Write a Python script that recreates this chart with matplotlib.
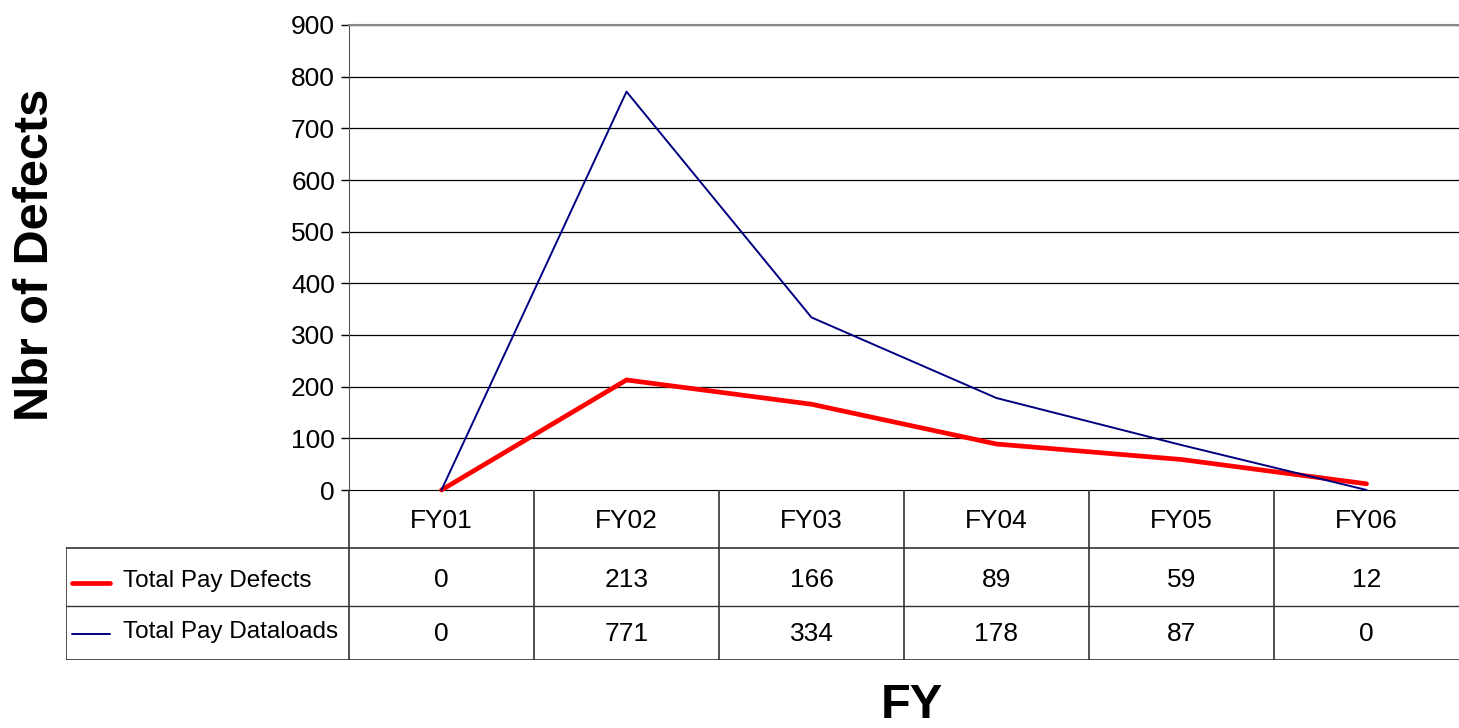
import matplotlib
matplotlib.use("Agg")
import matplotlib.pyplot as plt

categories = ["FY01", "FY02", "FY03", "FY04", "FY05", "FY06"]
defects = [0, 213, 166, 89, 59, 12]
dataloads = [0, 771, 334, 178, 87, 0]
series_names = ["Total Pay Defects", "Total Pay Dataloads"]
series_colors = ["#ff0000", "#000080"]
series_widths = [3.4, 1.4]
yticks = list(range(0, 901, 100))

FONT = ["Liberation Sans Narrow", "Liberation Sans", "DejaVu Sans"]
plt.rcParams["font.family"] = FONT

W, H = 1459, 728
fig = plt.figure(figsize=(W / 100, H / 100), dpi=100)

def fx(px):
    return px / W

def fy(py):
    return 1 - py / H

left, right, top, bottom = 349, 1459, 25, 490
ax = fig.add_axes([fx(left), fy(bottom), fx(right) - fx(left), fy(top) - fy(bottom)])
n = len(categories)
x = list(range(n))
ax.set_xlim(-0.5, n - 0.5)
ax.set_ylim(0, 900)
ax.set_yticks(yticks)
ax.set_yticklabels([str(t) for t in yticks], fontsize=19)
ax.set_xticks([])
for t in yticks[1:]:
    ax.axhline(t, color="black", lw=0.9, zorder=0)
ax.spines["right"].set_visible(False)
ax.spines["top"].set_color("#888888")
ax.spines["top"].set_linewidth(1.5)
ax.spines["left"].set_color("#555555")
ax.spines["bottom"].set_color("black")
ax.tick_params(axis="y", length=6, width=1, pad=4, colors="black")

for vals, c, lw in zip([defects, dataloads], series_colors, series_widths):
    ax.plot(x, vals, color=c, lw=lw, solid_capstyle="round", clip_on=False, zorder=3)

# data table
tleft, tbot = 66, 660
tax = fig.add_axes([fx(tleft), fy(tbot), fx(right) - fx(tleft), fy(bottom) - fy(tbot)])
tax.set_xlim(tleft, right)
tax.set_ylim(tbot, bottom)
tax.axis("off")
lc = "#333333"
colw = (right - left) / n
tax.plot([tleft, right], [548, 548], color=lc, lw=1.2)
tax.plot([tleft, right], [606, 606], color=lc, lw=1.0)
tax.plot([tleft, right], [660, 660], color=lc, lw=1.2)
tax.plot([tleft, tleft], [548, 660], color=lc, lw=1.2)
for i in range(n):
    xb = left + i * colw
    tax.plot([xb, xb], [490, 660], color=lc, lw=1.2)
for i, cat in enumerate(categories):
    cx = left + (i + 0.5) * colw
    tax.text(cx, 521, cat, ha="center", va="center", fontsize=19)
    tax.text(cx, 580, str(defects[i]), ha="center", va="center", fontsize=19)
    tax.text(cx, 634, str(dataloads[i]), ha="center", va="center", fontsize=19)
for j, (name, c, lw) in enumerate(zip(series_names, series_colors, series_widths)):
    yy = [583, 634][j]
    tax.plot([72, 110], [yy, yy], color=c, lw=lw, solid_capstyle="round")
    tax.text(123, yy - 2, name, ha="left", va="center", fontsize=17.5)

fig.text(fx(36), fy(255), "Nbr of Defects", rotation=90, ha="center", va="center",
         fontsize=35, fontweight="bold")
fig.text(fx(912), fy(706), "FY", ha="center", va="center", fontsize=35, fontweight="bold")

fig.savefig("out.png", dpi=100)
